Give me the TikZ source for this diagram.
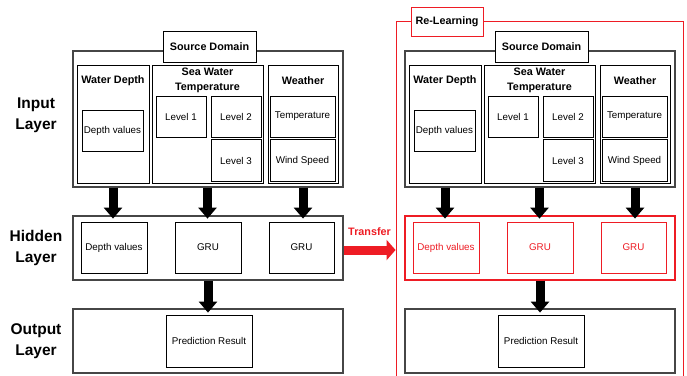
\documentclass[tikz,border=0pt]{standalone}
\usepackage{fontspec}
\setmainfont{Liberation Sans}
\usetikzlibrary{arrows.meta,positioning}
\definecolor{relred}{RGB}{238,28,36}
\definecolor{boxgray}{RGB}{70,70,70}
\tikzset{
  sz/.style 2 args={minimum width=#1pt, minimum height=#2pt},
  grp/.style={draw=boxgray, line width=1.1pt, fill=white, inner sep=0pt},
  cat/.style={draw=black, line width=0.9pt, fill=white, inner sep=0pt},
  itm/.style={draw=black, line width=0.8pt, fill=white, inner sep=0pt, align=center,
              font=\fontsize{9.8}{11}\selectfont},
  ttl/.style={font=\fontsize{10.8}{15}\selectfont\bfseries, align=center},
  lay/.style={font=\fontsize{15.5}{21}\selectfont\bfseries, align=center},
  bigarr/.style={-{Triangle[length=11pt, width=18pt]}, line width=9pt, black},
  trarr/.style={-{Triangle[length=9pt, width=20pt]}, line width=9pt, relred},
}
% one source domain with its three layers
% #1 name prefix, #2 x offset, #3 hidden frame colour, #4 hidden box colour
\newcommand{\domainset}[4]{%
  \begin{scope}[xshift=#2pt]
    % input layer
    \node[grp, sz={270}{136}] (#1in) at (208,119) {};
    \node[grp, ttl, draw=black, line width=0.9pt, sz={93}{31}] (#1src) at (209.5,46.5) {Source Domain};
    \node[cat, sz={72}{118}] (#1wd) at (113,124) {};
    \node[cat, sz={111}{118}] (#1swt) at (207.5,124) {};
    \node[cat, sz={70}{118}] (#1wea) at (303,124) {};
    \node[ttl] (#1wdt) at (113,81) {Water Depth};
    \node[ttl] (#1swtt) at (207.5,80.5) {Sea Water\\Temperature};
    \node[ttl] (#1weat) at (303,81) {Weather};
    \node[itm, sz={61}{41}] (#1dv) at (112.5,130.5) {Depth values};
    \node[itm, sz={50}{41}] (#1lv1) at (181,116.5) {Level 1};
    \node[itm, sz={50}{41}] (#1lv2) at (236,116.5) {Level 2};
    \node[itm, sz={50}{42}] (#1lv3) at (236,160.5) {Level 3};
    \node[itm, sz={65}{41}] (#1tmp) at (302.5,116.5) {Temperature};
    \node[itm, sz={65}{42}] (#1ws) at (302.5,160.5) {Wind Speed};
    % hidden layer
    \node[grp, draw=#3, sz={270}{64}] (#1hid) at (208,248) {};
    \node[itm, draw=#4, text=#4, sz={66}{51}] (#1hdv) at (114,247.5) {Depth values};
    \node[itm, draw=#4, text=#4, sz={66}{51}] (#1hg1) at (208,247.5) {GRU};
    \node[itm, draw=#4, text=#4, sz={65}{51}] (#1hg2) at (301.5,247.5) {GRU};
    % output layer
    \node[grp, sz={270}{64}] (#1out) at (208,341) {};
    \node[itm, sz={86}{52}] (#1pr) at (209,341) {Prediction Result};
    % arrows between the layers
    \draw[bigarr, shorten >=3pt] (#1wd.south |- #1in.south) -- (#1wd.south |- #1hdv.north);
    \draw[bigarr, shorten >=3pt] (#1swt.south |- #1in.south) -- (#1swt.south |- #1hg1.north);
    \draw[bigarr, shorten >=3pt] (#1wea.south |- #1in.south) -- (#1wea.south |- #1hg2.north);
    \draw[bigarr, shorten >=2pt] (#1hg1.south |- #1hid.south) -- (#1hg1.south |- #1pr.north);
  \end{scope}}

\begin{document}
\begin{tikzpicture}[x=1pt, y=-1pt]
  \useasboundingbox (0,0) rectangle (687,375);
  % layer names
  \node[lay] (inlay) at (36,115) {Input\\Layer};
  \node[lay] (hidlay) at (36,248) {Hidden\\Layer};
  \node[lay] (outlay) at (36,341) {Output\\Layer};
  % re-learning frame
  \node[draw=relred, line width=0.9pt, sz={287}{400}] (rlf) at (539.5,221) {};
  \domainset{L}{0}{boxgray}{black}
  \domainset{R}{332}{relred}{relred}
  \node[grp, ttl, draw=relred, line width=0.9pt, sz={72}{29}] (rlt) at (447,21.5) {Re-Learning};
  % transfer
  \coordinate (trs) at ([yshift=-2pt]Lhid.east);
  \draw[trarr] (trs) -- (rlf.west |- trs)
    node[midway, above=7pt, ttl, text=relred] (trl) {Transfer};
\end{tikzpicture}
\end{document}
